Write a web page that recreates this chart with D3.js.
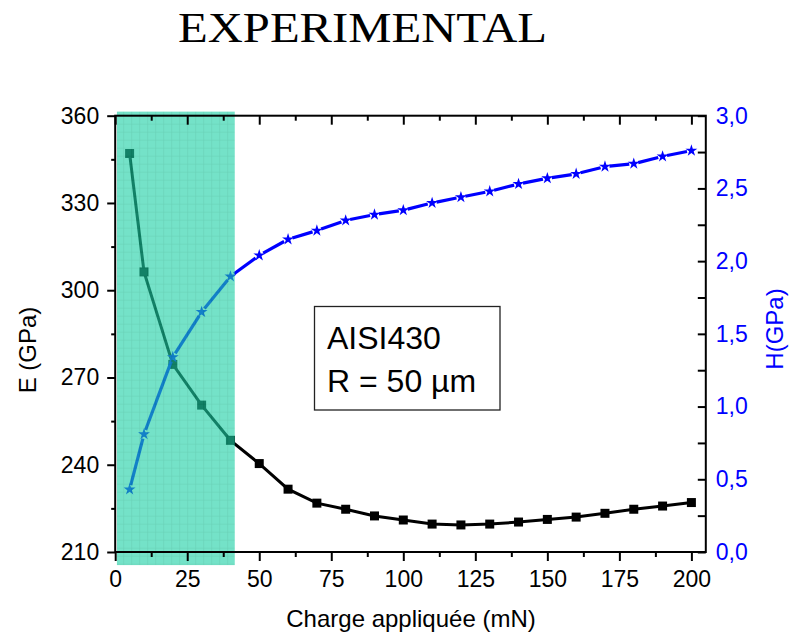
<!DOCTYPE html>
<html>
<head>
<meta charset="utf-8">
<script src="https://cdn.jsdelivr.net/npm/d3@7"></script>
<style>
  body { margin: 0; background: #fff; }
  text { font-family: Arial, "Liberation Sans", sans-serif; }
</style>
</head>
<body>
<div id="chart"></div>
<script>
// Data
// ==============================
var loads = [5, 10, 20, 30, 40, 50, 60, 70, 80, 90, 100, 110, 120, 130, 140, 150, 160, 170, 180, 190, 200];
var modulusE = [347, 306.3, 274.5, 260.5, 248.4, 240.4, 231.6, 226.8, 224.7, 222.4, 221, 219.6, 219.3, 219.6, 220.3, 221.2, 222, 223.3, 224.7, 225.8, 227];
var hardnessH = [0.43, 0.81, 1.34, 1.65, 1.895, 2.04, 2.15, 2.21, 2.28, 2.32, 2.35, 2.40, 2.44, 2.48, 2.53, 2.57, 2.60, 2.65, 2.67, 2.72, 2.76];
var shadeRange = [0.6, 41.5];

var xTicks = [0, 25, 50, 75, 100, 125, 150, 175, 200];
var eTicks = [210, 240, 270, 300, 330, 360];
var hTicks = [0, 0.5, 1, 1.5, 2, 2.5, 3];

var svgWidth = 789;
var svgHeight = 636;

var margin = {
  top: 115.7,
  right: 83.2,
  bottom: 84,
  left: 115.2
};

var width = svgWidth - margin.left - margin.right;
var height = svgHeight - margin.top - margin.bottom;

var svg = d3.select("#chart")
  .append("svg")
  .attr("width", svgWidth)
  .attr("height", svgHeight);

var defs = svg.append("defs");

// teal grid texture for the highlighted zone
var pat = defs.append("pattern")
  .attr("id", "grid")
  .attr("patternUnits", "userSpaceOnUse")
  .attr("width", 8)
  .attr("height", 8);
pat.append("rect").attr("width", 8).attr("height", 8).attr("fill", "#1fd0a6");
pat.append("path").attr("d", "M0,0H8M0,0V8").attr("stroke", "#0cb489").attr("stroke-width", 1.2);

var chartGroup = svg.append("g")
  .attr("transform", `translate(${margin.left}, ${margin.top})`);

// Scales
// ==============================
var xScale = d3.scaleLinear().domain([0, 205]).range([0, width]);
var yLeft = d3.scaleLinear().domain([210, 360]).range([height, 0]);
var yRight = d3.scaleLinear().domain([0, 3]).range([height, 0]);

function minorBetween(ticks) {
  var out = [];
  for (var i = 0; i < ticks.length - 1; i++) out.push((ticks[i] + ticks[i + 1]) / 2);
  return out;
}

var commaFmt = function(d) { return d3.format(".1f")(d).replace(".", ","); };

// Lines and markers
// ==============================
var rowsE = loads.map(function(d, i) { return { x: d, y: modulusE[i] }; });
var rowsH = loads.map(function(d, i) { return { x: d, y: hardnessH[i] }; });

chartGroup.append("path")
  .datum(rowsE)
  .attr("fill", "none")
  .attr("stroke", "#000")
  .attr("stroke-width", 3)
  .attr("d", d3.line().x(d => xScale(d.x)).y(d => yLeft(d.y)));

chartGroup.selectAll(".sq")
  .data(rowsE)
  .enter()
  .append("path")
  .attr("class", "sq")
  .attr("transform", d => `translate(${xScale(d.x)}, ${yLeft(d.y)})`)
  .attr("d", d3.symbol().type(d3.symbolSquare).size(81))
  .attr("fill", "#000");

// blue line is broken a little around each star
var segs = rowsH.slice(1).map(function(d, i) { return [rowsH[i], d]; });
chartGroup.selectAll(".seg")
  .data(segs)
  .enter()
  .append("line")
  .attr("class", "seg")
  .each(function(s) {
    var x1 = xScale(s[0].x), y1 = yRight(s[0].y);
    var x2 = xScale(s[1].x), y2 = yRight(s[1].y);
    var len = Math.hypot(x2 - x1, y2 - y1);
    var g = 4.5 / len;
    d3.select(this)
      .attr("x1", x1 + (x2 - x1) * g).attr("y1", y1 + (y2 - y1) * g)
      .attr("x2", x2 - (x2 - x1) * g).attr("y2", y2 - (y2 - y1) * g);
  })
  .attr("stroke", "#0000ff")
  .attr("stroke-width", 3.2);

chartGroup.selectAll(".star")
  .data(rowsH)
  .enter()
  .append("path")
  .attr("class", "star")
  .attr("transform", d => `translate(${xScale(d.x)}, ${yRight(d.y)})`)
  .attr("d", d3.symbol().type(d3.symbolStar).size(44))
  .attr("fill", "#0000ff");

// Highlighted zone
// ==============================
chartGroup.append("rect")
  .attr("x", xScale(shadeRange[0]))
  .attr("y", yLeft(361.4))
  .attr("width", xScale(shadeRange[1]) - xScale(shadeRange[0]))
  .attr("height", yLeft(205.5) - yLeft(361.4))
  .attr("fill", "url(#grid)")
  .attr("opacity", 0.62);

// Axes
// ==============================
function styleAxis(g) {
  g.select(".domain").remove();
  g.selectAll(".tick line").attr("stroke", "#000").attr("stroke-width", 2);
  g.selectAll(".tick text").attr("font-size", 23).attr("font-family", "Arial, 'Liberation Sans', sans-serif");
}

chartGroup.append("g")
  .attr("transform", `translate(0, ${height})`)
  .call(d3.axisBottom(xScale).tickValues(minorBetween(xTicks)).tickSize(5).tickFormat(""))
  .call(styleAxis);
chartGroup.append("g")
  .attr("transform", `translate(0, ${height})`)
  .call(d3.axisBottom(xScale).tickValues(xTicks).tickSize(9).tickPadding(10).tickFormat(d3.format("d")))
  .call(styleAxis);

chartGroup.append("g")
  .call(d3.axisTop(xScale).tickValues(minorBetween(xTicks)).tickSize(-5).tickFormat(""))
  .call(styleAxis);
chartGroup.append("g")
  .call(d3.axisTop(xScale).tickValues(xTicks).tickSize(-9).tickFormat(""))
  .call(styleAxis);

chartGroup.append("g")
  .call(d3.axisLeft(yLeft).tickValues(minorBetween(eTicks)).tickSize(4).tickFormat(""))
  .call(styleAxis);
chartGroup.append("g")
  .call(d3.axisLeft(yLeft).tickValues(eTicks).tickSize(8).tickPadding(8).tickFormat(d3.format("d")))
  .call(styleAxis);

chartGroup.append("g")
  .attr("transform", `translate(${width}, 0)`)
  .call(d3.axisRight(yRight).tickValues(minorBetween(hTicks)).tickSizeInner(-8).tickSizeOuter(0).tickFormat(""))
  .call(styleAxis);
var rightAxis = chartGroup.append("g")
  .attr("transform", `translate(${width}, 0)`)
  .call(d3.axisRight(yRight).tickValues(hTicks).tickSizeInner(-8).tickSizeOuter(0).tickPadding(10).tickFormat(commaFmt))
  .call(styleAxis);
rightAxis.selectAll(".tick text").attr("fill", "#0000ff");

// frame
chartGroup.append("rect")
  .attr("width", width)
  .attr("height", height)
  .attr("fill", "none")
  .attr("stroke", "#000")
  .attr("stroke-width", 2);

// Labels
// ==============================
svg.append("text")
  .attr("x", 362.5)
  .attr("y", 41.7)
  .attr("text-anchor", "middle")
  .style("font-family", "'Liberation Serif', 'DejaVu Serif', serif")
  .attr("font-size", 42)
  .attr("textLength", 369)
  .attr("lengthAdjust", "spacingAndGlyphs")
  .text("EXPERIMENTAL");

svg.append("text")
  .attr("x", 411)
  .attr("y", 627)
  .attr("text-anchor", "middle")
  .attr("font-size", 24)
  .text("Charge appliquée (mN)");

svg.append("text")
  .attr("transform", "translate(36, 350) rotate(-90)")
  .attr("text-anchor", "middle")
  .attr("font-size", 24)
  .text("E (GPa)");

svg.append("text")
  .attr("transform", "translate(783, 329) rotate(-90)")
  .attr("text-anchor", "middle")
  .attr("font-size", 24)
  .attr("fill", "#0000ff")
  .text("H(GPa)");

// sample box
var box = svg.append("g");
box.append("rect")
  .attr("x", 314.5)
  .attr("y", 306.5)
  .attr("width", 185.5)
  .attr("height", 103.5)
  .attr("fill", "#fff")
  .attr("stroke", "#222")
  .attr("stroke-width", 1.3);
box.append("text")
  .attr("x", 327)
  .attr("y", 348.5)
  .attr("font-size", 32)
  .text("AISI430");
box.append("text")
  .attr("x", 327)
  .attr("y", 392)
  .attr("font-size", 32)
  .text("R = 50 µm");
</script>
</body>
</html>
